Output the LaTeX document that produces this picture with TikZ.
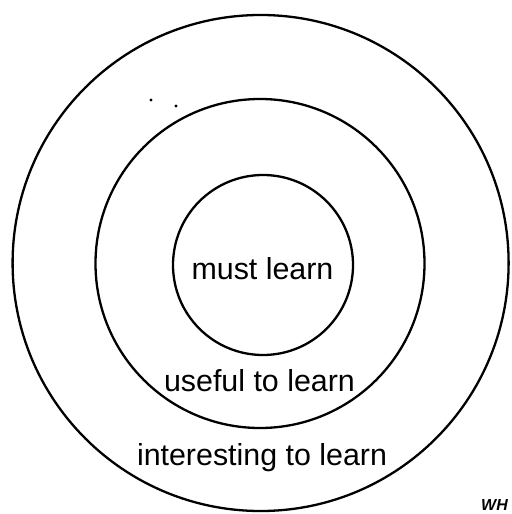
\documentclass[tikz,border=0pt]{standalone}
\usepackage{fontspec}
\setmainfont{Liberation Sans}
\begin{document}
\begin{tikzpicture}[x=1bp,y=-1bp,
  ring/.style={draw=black, line width=2.3bp, circle, inner sep=0pt},
  lbl/.style={anchor=base, inner sep=0pt, font=\fontsize{30.5}{32}\selectfont},
  speck/.style={fill=black, circle, inner sep=0pt, minimum size=3.4bp}]
\useasboundingbox (0,0) rectangle (512,514);
\begin{scope}
\clip (0,0) rectangle (512,514);
\node[ring, minimum size=496bp] (outer) at (260.6,263) {};
\node[ring, minimum size=329bp] (middle) at (260,263.5) {};
\node[ring, minimum size=180bp] (inner) at (263,265) {};
\node[lbl] (must) at (262.5,279) {must learn};
\node[lbl] (useful) at (259.5,391) {useful to learn};
\node[lbl] (interesting) at (262,465) {interesting to learn};
\node[speck] (d1) at (151,100) {};
\node[speck] (d2) at (176,106) {};
\node[anchor=base west, inner sep=0pt, font=\fontsize{16}{17}\selectfont\bfseries\itshape] (wh) at (481,510) {WH};
\end{scope}
\end{tikzpicture}
\end{document}
